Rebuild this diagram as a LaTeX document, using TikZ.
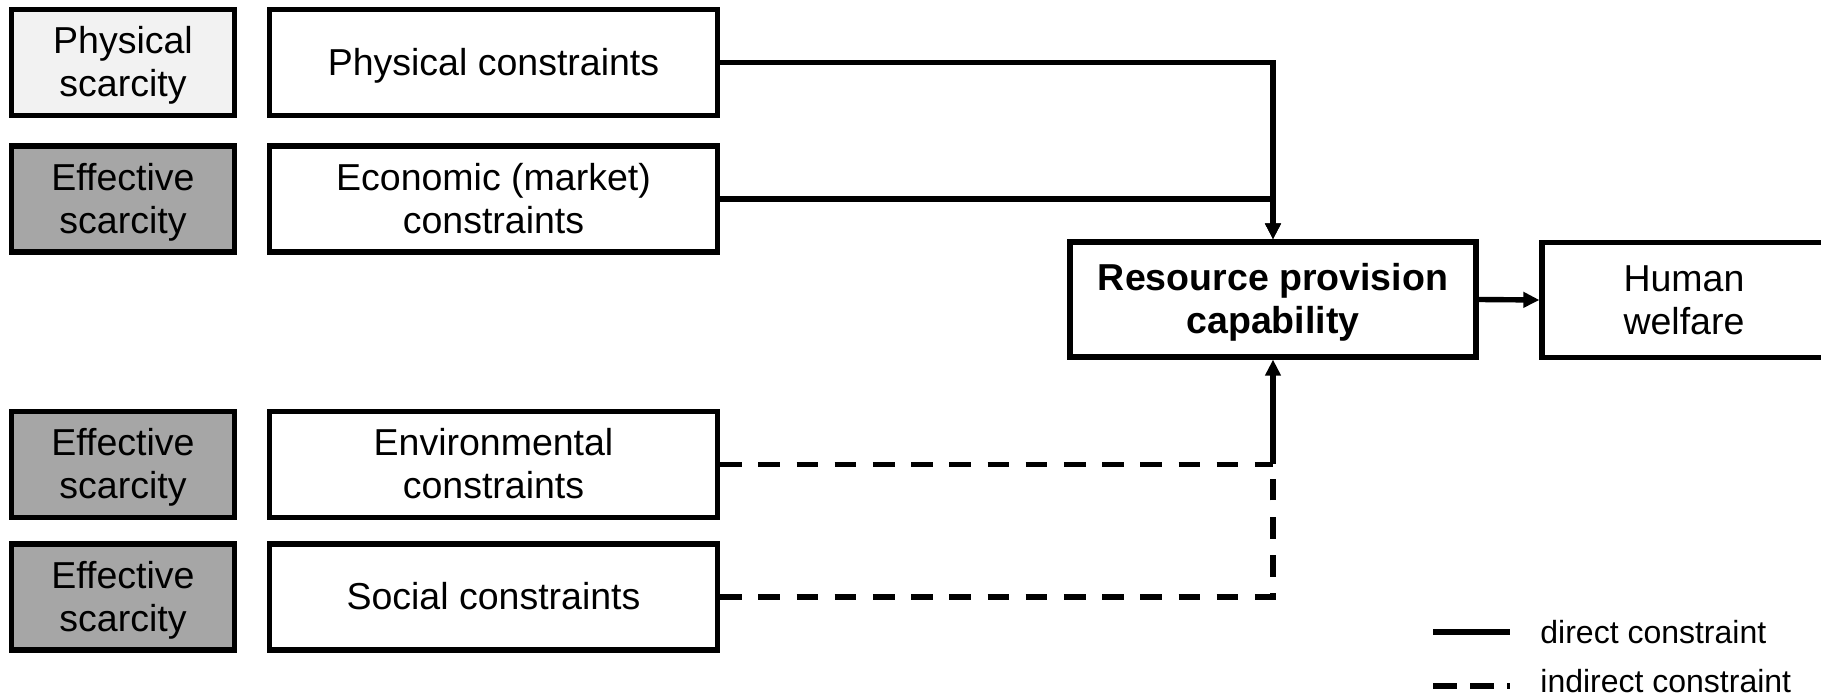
\documentclass[tikz,border=0pt]{standalone}
\usepackage{fontspec}
\setmainfont{Liberation Sans}
\usetikzlibrary{arrows.meta}
\definecolor{lightfill}{HTML}{F2F2F2}
\definecolor{darkfill}{HTML}{A6A6A6}
% fixed-height line strut: every text line gets the same box
\newcommand\lstrut{\rule[-4.25pt]{0pt}{21.5pt}}
\begin{document}
\begin{tikzpicture}[x=0.5pt,y=-0.5pt,
  boxfont/.style={font=\fontsize{18.75pt}{21.5pt}\selectfont},
  box/.style={draw,line width=2.6pt,align=center,inner sep=0pt,boxfont},
  scar/.style={box,minimum width=111.5pt,minimum height=53pt},
  cons/.style={box,fill=white,minimum width=224pt,minimum height=53pt},
  conn/.style={line width=2.7pt},
  tip/.style={-{Triangle[length=8pt,width=7.5pt]}},
  indirect/.style={conn,dash pattern=on 10.8pt off 8.3pt},
  legenddash/.style={conn,dash pattern=on 12pt off 6.5pt},
  legendtext/.style={anchor=base west,inner sep=0pt,font=\fontsize{16pt}{18pt}\selectfont}]
\useasboundingbox (0,0) rectangle (1821,699);
\clip (0,0) rectangle (1821,699);

% scarcity labels
\node[scar,fill=lightfill] (s1) at (123,62.5) {\lstrut Physical\\\lstrut scarcity};
\node[scar,fill=darkfill]  (s2) at (123,199)  {\lstrut Effective\\\lstrut scarcity};
\node[scar,fill=darkfill]  (s3) at (123,464.5) {\lstrut Effective\\\lstrut scarcity};
\node[scar,fill=darkfill]  (s4) at (123,597)  {\lstrut Effective\\\lstrut scarcity};

% constraint boxes
\node[cons] (phys) at (493.5,62.5) {\lstrut Physical constraints};
\node[cons] (econ) at (493.5,199)  {\lstrut Economic (market)\\\lstrut constraints};
\node[cons] (env)  at (493.5,464.5) {\lstrut Environmental\\\lstrut constraints};
\node[cons] (soc)  at (493.5,597)  {\lstrut Social constraints};

% outcome boxes
\node[box,minimum width=203pt,minimum height=57.5pt,font=\fontsize{18.75pt}{21.5pt}\selectfont\bfseries]
  (res) at (1273,299.5) {\lstrut Resource provision\\\lstrut capability};
\node[box,minimum width=142pt,minimum height=57.5pt] (hum) at (1684,300) {\lstrut Human\\\lstrut welfare};

% direct constraints
\draw[conn,tip] (phys.east) -| (res.north);
\draw[conn,tip] (econ.east) -| (res.north);

% indirect constraints
\coordinate (join) at (res.south |- env.east);
\draw[indirect] (env.east) -- (join);
\draw[indirect] (soc.east) -| (join);
\draw[conn,tip] (join) -- (res.south);

\draw[conn,tip] (res.east) -- (hum.west);

% legend
\coordinate (la) at (1433,632);
\coordinate (lb) at (1510,632);
\coordinate (lc) at (1433,686);
\coordinate (ld) at (1510,686);
\draw[conn] (la) -- (lb);
\draw[legenddash] (lc) -- (ld);
\node[legendtext] (ltd) at (1540,644) {direct constraint};
\node[legendtext] (lti) at (1540,693) {indirect constraint};
\end{tikzpicture}
\end{document}
